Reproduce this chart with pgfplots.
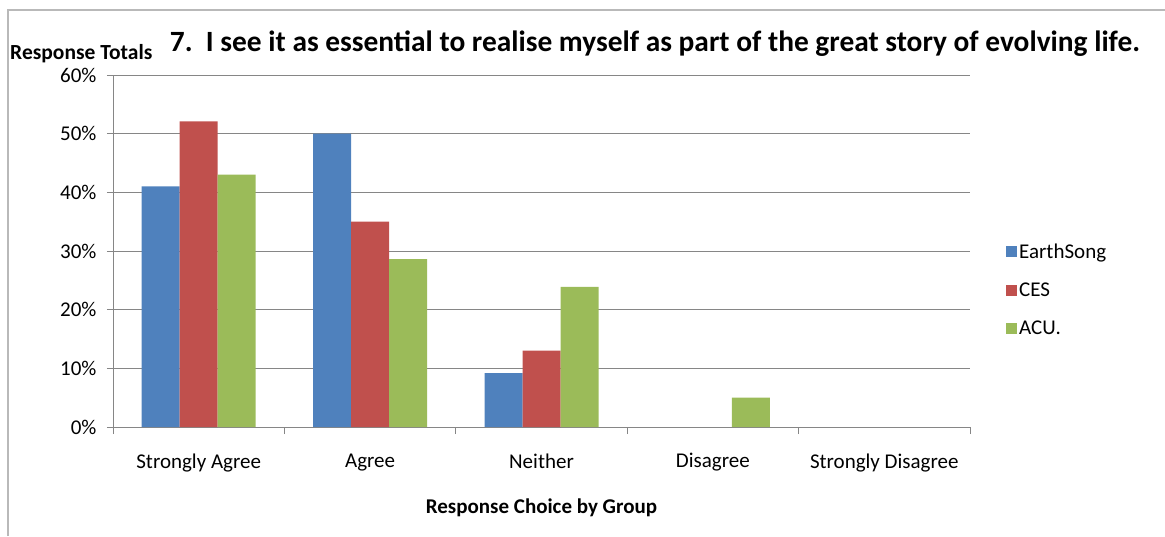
\documentclass[border=0pt]{standalone}
\usepackage{fontspec}
\setmainfont{Carlito}
\usepackage{pgfplots}
\pgfplotsset{compat=1.18}

\definecolor{esblue}{HTML}{4F81BD}
\definecolor{cesred}{HTML}{C0504D}
\definecolor{acugreen}{HTML}{9BBB59}
\definecolor{gridgray}{HTML}{868686}

\begin{document}
\begin{tikzpicture}
  % page = 1165 x 536 (1 px = 1 pt)
  \useasboundingbox (0pt,0pt) rectangle (1165pt,536pt);
  \draw[gray!55, line width=1.6pt] (8pt,0pt) -- (8pt,526pt) -- (1165pt,526pt);

  \node[font=\bfseries\fontsize{29.4}{34}\selectfont, anchor=center] at (655pt,492pt)
    {7.\ \ I see it as essential to realise myself as part of the great story of evolving life.};
  \node[font=\bfseries\fontsize{21.5}{25}\selectfont, anchor=west, inner sep=0pt] at (10pt,482pt)
    {Response Totals};

  \begin{axis}[
    at={(113pt,109pt)}, anchor=south west,
    scale only axis,
    width=857pt, height=352pt,
    ybar=0pt,
    bar width=0.2217,
    xmin=-0.5, xmax=4.5,
    ymin=0, ymax=60,
    xtick={0,1,2,3,4},
    xticklabels={Strongly Agree, Agree, Neither, Disagree, Strongly Disagree},
    minor xtick={-0.5,0.5,1.5,2.5,3.5,4.5},
    ytick={0,10,20,30,40,50,60},
    yticklabels={0\%,10\%,20\%,30\%,40\%,50\%,60\%},
    tick align=outside,
    major tick length=6pt,
    minor tick length=7pt,
    every major x tick/.append style={draw=none},
    tick style={gridgray, line width=0.8pt},
    axis x line*=bottom,
    axis y line*=left,
    axis line style={gridgray, line width=0.8pt, -},
    ymajorgrids=true,
    grid style={gridgray, line width=0.8pt},
    ticklabel style={font=\fontsize{21}{25}\selectfont},
    yticklabel style={xshift=-7pt},
    xticklabel style={yshift=-17pt},
    xlabel={Response Choice by Group},
    xlabel style={font=\bfseries\fontsize{21}{25}\selectfont, yshift=-20pt},
    legend style={at={(1.0385,0.389)}, anchor=west, draw=none,
      font=\fontsize{21}{25}\selectfont, row sep=19pt,
      /tikz/every even column/.append style={column sep=7pt}},
    legend cell align=left,
    legend image code/.code={\fill[#1] (0pt,-5.5pt) rectangle (11pt,5.5pt);},
  ]
    \addplot[fill=esblue, draw=none] coordinates {(0,41) (1,50) (2,9.2)};
    \addlegendentry{EarthSong}
    \addplot[fill=cesred, draw=none] coordinates {(0,52.1) (1,35) (2,13)};
    \addlegendentry{CES}
    \addplot[fill=acugreen, draw=none] coordinates {(0,43) (1,28.6) (2,23.9) (3,5)};
    \addlegendentry{ACU.}
  \end{axis}
\end{tikzpicture}
\end{document}
